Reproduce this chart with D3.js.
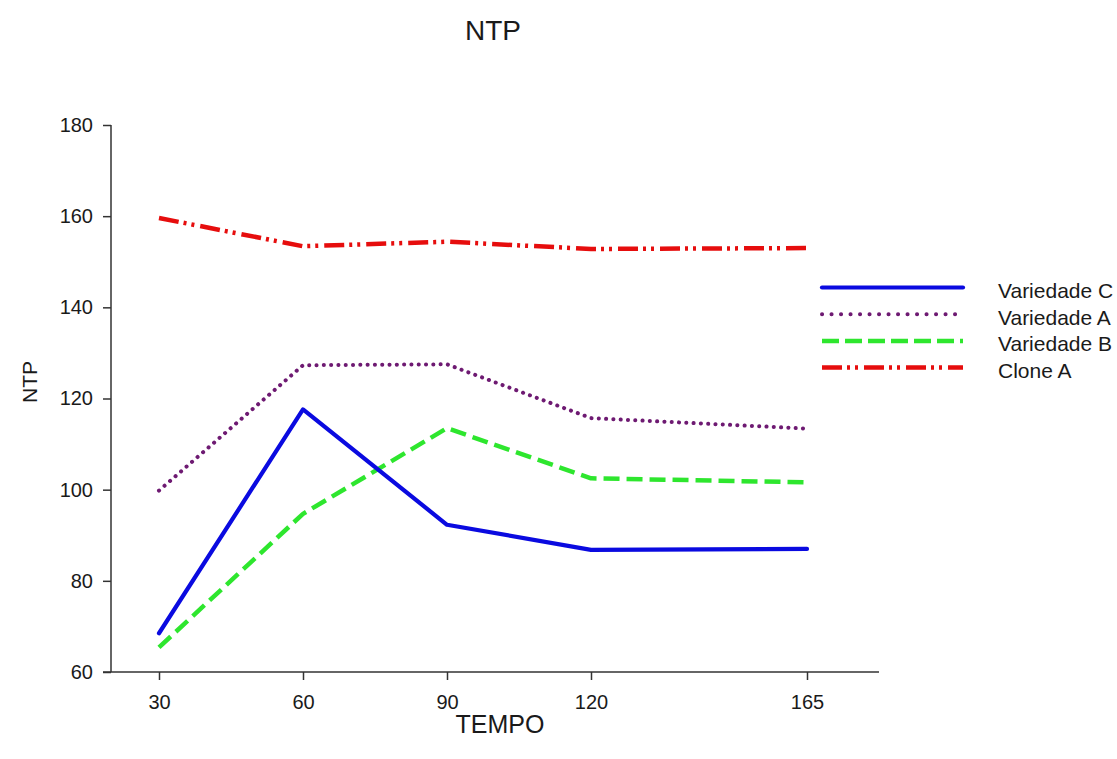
<!DOCTYPE html>
<html>
<head>
<meta charset="utf-8">
<script src="https://cdn.jsdelivr.net/npm/d3@7"></script>
<style>
  body { margin: 0; background: #fff; }
  text { font-family: 'Liberation Sans', Arial, sans-serif; fill: #1a1a1a; }
</style>
</head>
<body>
<div id="chart"></div>
<script>
const tempo = [30, 60, 90, 120, 165];
const variedadeC = [68.5, 117.6, 92.3, 86.8, 87.0];
const variedadeA = [99.8, 127.3, 127.5, 115.7, 113.4];
const variedadeB = [65.4, 94.7, 113.5, 102.5, 101.6];
const cloneA = [159.6, 153.4, 154.4, 152.8, 153.0];
const yTicks = [60, 80, 100, 120, 140, 160, 180];

const series = [
  { name: 'Variedade C', values: variedadeC, color: '#0a0ae0', width: 4.2, dash: null, cap: 'round', legendDash: null },
  { name: 'Variedade A', values: variedadeA, color: '#6e1a72', width: 4, dash: '0.1,7.2', cap: 'round', legendDash: '0.1,9.4' },
  { name: 'Variedade B', values: variedadeB, color: '#2ee62e', width: 4.5, dash: '16,7', cap: 'butt', legendDash: '17,6' },
  { name: 'Clone A', values: cloneA, color: '#e60d0d', width: 4.5, dash: '20,5,3,5,3,6', cap: 'butt', legendDash: '20,5,3,5,3,6' }
];

const width = 1117;
const height = 759;

const x = d3.scaleLinear().domain([20, 180]).range([111, 879]);
const y = d3.scaleLinear().domain([60, 180]).range([672, 125]);

const svg = d3
  .select('#chart')
  .append('svg')
  .attr('width', width)
  .attr('height', height);

// axes
const yAxis = d3.axisLeft(y).tickValues(yTicks).tickSize(8).tickPadding(10);
const xAxis = d3.axisBottom(x).tickValues(tempo).tickSize(8).tickPadding(15);

const gy = svg.append('g').attr('transform', 'translate(111,0)').call(yAxis);
const gx = svg.append('g').attr('transform', 'translate(0,672)').call(xAxis);

gx.select('.domain').attr('d', 'M103,0H879');
gy.select('.domain').attr('d', 'M0,125V672');

[gx, gy].forEach(g => {
  g.attr('font-size', null).attr('font-family', null);
  g.selectAll('.domain, line').attr('stroke', '#333').attr('stroke-width', 1.5);
  g.selectAll('text')
    .style('font-size', '20px')
    .attr('fill', '#1a1a1a');
});

// lines
const line = d3
  .line()
  .x((d, i) => x(tempo[i]))
  .y(d => y(d));

series
  .slice()
  .reverse()
  .forEach(s => {
    svg
      .append('path')
      .attr('d', line(s.values))
      .attr('fill', 'none')
      .attr('stroke', s.color)
      .attr('stroke-width', s.width)
      .attr('stroke-linecap', s.cap)
      .attr('stroke-linejoin', 'round')
      .attr('stroke-dasharray', s.dash);
  });

// legend
const legend = svg
  .append('g')
  .selectAll('g')
  .data(series)
  .enter()
  .append('g')
  .attr('transform', (d, i) => `translate(0, ${287.5 + i * 26.7})`);

legend
  .append('line')
  .attr('x1', 822)
  .attr('x2', 963)
  .attr('stroke', d => d.color)
  .attr('stroke-width', d => d.width)
  .attr('stroke-linecap', d => d.cap)
  .attr('stroke-dasharray', d => d.legendDash);

legend
  .append('text')
  .attr('x', 998)
  .attr('y', 10.5)
  .style('font-size', '21px')
  .text(d => d.name);

// titles
svg
  .append('text')
  .attr('x', 493)
  .attr('y', 40)
  .attr('text-anchor', 'middle')
  .style('font-size', '28px')
  .text('NTP');

svg
  .append('text')
  .attr('x', 500)
  .attr('y', 733)
  .attr('text-anchor', 'middle')
  .style('font-size', '25px')
  .text('TEMPO');

svg
  .append('text')
  .attr('transform', 'translate(37, 382) rotate(-90)')
  .attr('text-anchor', 'middle')
  .style('font-size', '21px')
  .text('NTP');
</script>
</body>
</html>
